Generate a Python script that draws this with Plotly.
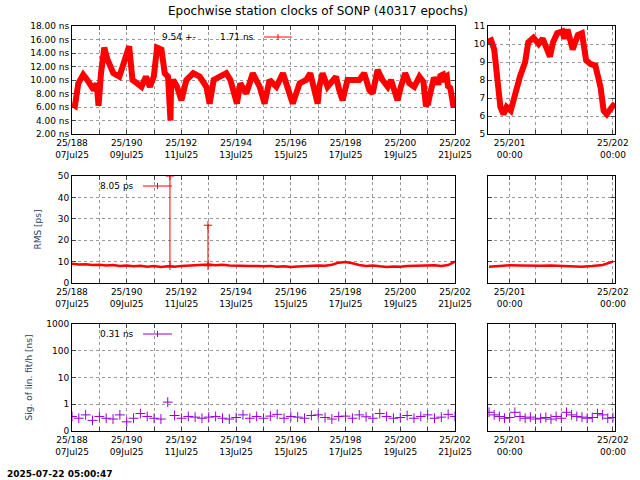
import numpy as np
import plotly.graph_objects as go

title = "Epochwise station clocks of SONP (40317 epochs)"
stamp = "2025-07-22 05:00:47"

clk_days = [188.00,188.11,188.23,188.41,188.56,188.68,188.80,188.90,188.97,189.06,189.18,189.30,189.51,189.73,189.90,
            190.09,190.21,190.38,190.54,190.70,190.85,190.99,191.11,191.27,191.39,191.51,191.58,191.60,191.62,191.70,191.84,
            192.00,192.18,192.43,192.67,192.91,193.03,193.18,193.40,193.64,193.79,193.91,194.03,194.15,194.37,194.61,194.86,
            195.04,195.22,195.47,195.71,195.95,196.07,196.32,196.56,196.71,196.86,196.98,197.04,197.16,197.34,197.52,197.65,
            197.77,197.89,198.07,198.26,198.50,198.68,198.87,198.99,199.17,199.35,199.54,199.66,199.90,200.02,200.18,200.33,
            200.51,200.70]
clk_vals = [6.5,6.2,9.5,10.8,10.0,9.0,8.5,9.5,6.2,11.0,14.8,13.0,11.0,10.5,12.5,
            15.0,10.0,9.5,9.0,10.5,9.0,10.5,14.8,14.5,11.0,10.5,4.0,4.0,9.0,10.0,9.0,
            7.0,10.0,11.0,10.5,9.0,6.5,10.0,10.5,11.0,10.0,8.0,6.5,9.5,8.0,11.0,9.0,
            6.5,10.0,9.0,11.0,8.0,6.5,9.5,10.0,11.0,8.5,6.5,9.0,11.0,9.0,10.0,10.5,
            8.5,7.0,10.0,10.0,10.0,11.0,8.5,8.0,11.5,10.0,9.0,10.0,7.0,9.0,11.0,9.5,
            9.0,10.5]
last_days = [200.78,200.82,200.85,200.88,200.91,200.94,200.97,201.01,201.05,201.10,201.15,201.18,201.23,201.28,201.32,
             201.39,201.42,201.46,201.51,201.53,201.56,201.61,201.66,201.70,201.74,201.78,201.83,201.88,201.91,201.94,201.99,202.02]
last_vals = [10.1,10.2,9.7,8.2,6.5,6.1,6.5,6.3,7.2,8.2,9.0,10.1,10.35,10.0,10.3,
             9.3,10.1,10.6,10.7,10.3,10.8,9.7,10.5,10.6,9.1,8.9,8.8,7.6,6.3,6.1,6.5,6.7]

rms_days = list(np.arange(188.0, 202.01, 0.25))
rms_vals = [9,8.6,8.8,8.4,8.5,8.2,8.4,8.0,8.2,7.8,8.1,7.6,7.9,7.5,7.8,7.6,
            8.0,8.2,8.5,8.4,8.6,8.3,8.5,8.2,8.0,8.1,7.9,8.0,7.8,8.0,7.6,7.8,
            7.5,7.7,7.9,8.0,8.2,8.1,8.5,9.5,9.8,9.2,8.4,8.0,8.2,7.8,7.5,7.7,
            7.6,7.9,8.0,8.1,8.2,8.3,8.0,8.4,10.0]
spike_days = [191.58, 192.97]
spike_vals = [50, 27]
rms_last_days = [200.8,200.9,201.0,201.1,201.2,201.3,201.4,201.5,201.6,201.7,201.8,201.9,202.0]
rms_last_vals = [7.6,7.9,8.3,8.2,8.0,8.1,8.2,8.1,7.9,7.6,7.9,8.4,10.0]

sig_days = list(np.arange(188.0, 202.01, 0.25))
sig_vals = [0.35,0.3,0.4,0.25,0.35,0.3,0.28,0.4,0.22,0.3,0.45,0.35,0.3,0.28,1.2,0.38,
            0.3,0.35,0.33,0.3,0.33,0.35,0.3,0.28,0.32,0.4,0.3,0.35,0.3,0.36,0.42,0.3,
            0.35,0.33,0.3,0.38,0.4,0.32,0.28,0.35,0.36,0.3,0.4,0.34,0.3,0.45,0.35,0.3,
            0.32,0.38,0.3,0.35,0.4,0.3,0.33,0.42,0.35]
sig_last_days = [200.8,200.85,200.9,200.95,201.0,201.05,201.1,201.15,201.2,201.25,201.3,201.35,201.4,201.45,201.5,
                 201.55,201.6,201.65,201.7,201.75,201.8,201.85,201.9,201.95,202.0]
sig_last_vals = [0.5,0.4,0.35,0.3,0.32,0.5,0.35,0.3,0.33,0.28,0.3,0.32,0.28,0.35,0.3,
                 0.5,0.4,0.35,0.33,0.3,0.32,0.45,0.4,0.3,0.32]

left_ticks = [188,190,192,194,196,198,200,202]
left_dates = ["07Jul25","09Jul25","11Jul25","13Jul25","15Jul25","17Jul25","19Jul25","21Jul25"]

RED = "#ff0000"
VIO = "#9400d3"
FONT = "DejaVu Sans"

fig = go.Figure()
fig.add_trace(go.Scatter(x=clk_days + last_days, y=clk_vals + last_vals, mode="lines",
                         line=dict(color=RED, width=6), xaxis="x", yaxis="y"))
fig.add_trace(go.Scatter(x=last_days, y=last_vals, mode="lines",
                         line=dict(color=RED, width=6), xaxis="x2", yaxis="y2"))
fig.add_trace(go.Scatter(x=rms_days, y=rms_vals, mode="lines",
                         line=dict(color=RED, width=2.5), xaxis="x3", yaxis="y3"))
sx, sy = [], []
for d, v in zip(spike_days, spike_vals):
    sx += [d, d, None]; sy += [8, v, None]
fig.add_trace(go.Scatter(x=sx, y=sy, mode="lines+markers", marker=dict(symbol="cross-thin", size=6, line=dict(color=RED, width=1)),
                         line=dict(color=RED, width=1), xaxis="x3", yaxis="y3"))
fig.add_trace(go.Scatter(x=rms_last_days, y=rms_last_vals, mode="lines",
                         line=dict(color=RED, width=2.5), xaxis="x4", yaxis="y4"))
fig.add_trace(go.Scatter(x=sig_days, y=sig_vals, mode="markers",
                         marker=dict(symbol="cross-thin", size=7, line=dict(color=VIO, width=1)), xaxis="x5", yaxis="y5"))
fig.add_trace(go.Scatter(x=sig_last_days, y=sig_last_vals, mode="markers",
                         marker=dict(symbol="cross-thin", size=7, line=dict(color=VIO, width=1)), xaxis="x6", yaxis="y6"))

L = [72/640, 455/640]
R = [488/640, 615/640]
rows = [[1-134/480, 1-26/480], [1-283/480, 1-176/480], [1-431/480, 1-324/480]]
common = dict(showline=True, linecolor="black", linewidth=1, mirror="ticks", ticks="inside", ticklen=4,
              showgrid=True, gridcolor="#999999", griddash="dot", gridwidth=1, zeroline=False, automargin=False,
              tickfont=dict(family=FONT, size=9, color="black"))

lt_vals = list(range(188, 203))
lt_text = [f"25/{d}<br>{left_dates[left_ticks.index(d)]}" if d in left_ticks else "" for d in lt_vals]
rt_vals = [200.75, 201, 201.25, 201.5, 201.75, 202]
rt_text = ["", "25/201<br>00:00", "", "", "", "25/202<br>00:00"]

lay = {}
for i in range(3):
    xl = i*2 + 1; xr = i*2 + 2
    nl = "" if xl == 1 else str(xl)
    lay["xaxis" + nl] = dict(domain=L, anchor="y" + nl, range=[188, 202], tickmode="array",
                             tickvals=lt_vals, ticktext=lt_text, **common)
    lay["xaxis" + str(xr)] = dict(domain=R, anchor="y" + str(xr), range=[200.79, 202.02], tickmode="array",
                                  tickvals=rt_vals, ticktext=rt_text, **common)
lay["yaxis"] = dict(domain=rows[0], anchor="x", range=[2, 18], tickvals=list(range(2, 19, 2)),
                    ticktext=[f"{v:.2f} ns" for v in range(2, 19, 2)], **common)
lay["yaxis2"] = dict(domain=rows[0], anchor="x2", range=[5, 11], dtick=1, **common)
lay["yaxis3"] = dict(domain=rows[1], anchor="x3", range=[0, 50], dtick=10,
                     title=dict(text="RMS [ps]", font=dict(family=FONT, size=9), standoff=14), **common)
lay["yaxis4"] = dict(domain=rows[1], anchor="x4", range=[0, 50], dtick=10, showticklabels=False, **common)
lay["yaxis5"] = dict(domain=rows[2], anchor="x5", type="log", range=[-1, 3], tickvals=[0.1, 1, 10, 100, 1000],
                     ticktext=["0", "1", "10", "100", "1000"],
                     title=dict(text="Sig. of lin. fit/h [ns]", font=dict(family=FONT, size=9), standoff=12), **common)
lay["yaxis6"] = dict(domain=rows[2], anchor="x6", type="log", range=[-1, 3], tickvals=[0.1, 1, 10, 100, 1000],
                     showticklabels=False, **common)

def lab(text, x, y, anchor="right", size=9, bold=False):
    return dict(text=("<b>%s</b>" % text) if bold else text, x=x/640, y=1-y/480, xref="paper", yref="paper",
                showarrow=False, xanchor=anchor, yanchor="middle", font=dict(family=FONT, size=size, color="black"))

anns = [
    lab(title, 318, 11, anchor="center", size=12),
    lab(stamp, 5, 474, anchor="left", bold=True),
    lab("9.54 +-", 198, 37),
    lab("1.71 ns", 256, 37),
    lab("8.05 ps", 136, 186),
    lab("0.31 ns", 136, 334),
]
shapes = []
for (x0, x1, y, c) in [(264, 292, 37, RED), (143, 172, 186, RED), (143, 172, 334, VIO)]:
    shapes.append(dict(type="line", xref="paper", yref="paper", x0=x0/640, x1=x1/640, y0=1-y/480, y1=1-y/480,
                       line=dict(color=c, width=1)))
    xm = (x0 + x1) / 2
    shapes.append(dict(type="line", xref="paper", yref="paper", x0=xm/640, x1=xm/640, y0=1-(y-3)/480, y1=1-(y+3)/480,
                       line=dict(color=c, width=1)))

fig.update_layout(**lay, annotations=anns, shapes=shapes, width=640, height=480,
                  margin=dict(l=0, r=0, t=0, b=0), showlegend=False,
                  plot_bgcolor="white", paper_bgcolor="white")
fig.write_html("out.html", config={"displayModeBar": False},
               post_script="document.body.style.margin='0';")
